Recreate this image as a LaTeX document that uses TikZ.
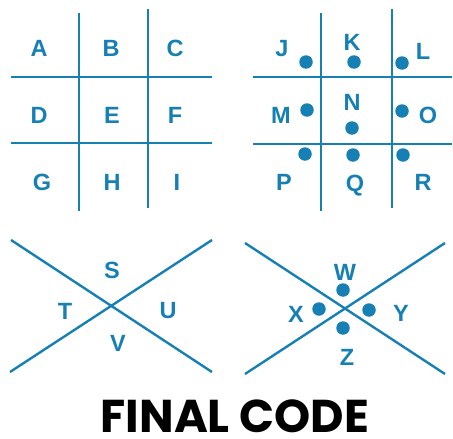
\documentclass[tikz,border=0pt]{standalone}
\usepackage{fontspec}
\setmainfont{Liberation Sans}
\newfontfamily\titlefont{Poppins}
\definecolor{pig}{RGB}{22,128,180}
\tikzset{
  gridline/.style={draw=pig, line width=2.4pt},
  letter/.style={text=pig, font=\fontsize{23.5}{23.5}\selectfont\bfseries, inner sep=0pt, anchor=center},
  dotmark/.style={fill=pig, circle, minimum size=13.5pt, inner sep=0pt},
}
\begin{document}
\begin{tikzpicture}[x=1pt,y=-1pt]
\useasboundingbox (0,0) rectangle (453,439);
% grid 1
\coordinate (g1a) at (79,13); \coordinate (g1b) at (79,211);
\coordinate (g1c) at (148,9); \coordinate (g1d) at (148,208);
\coordinate (g1e) at (11,77); \coordinate (g1f) at (212,77);
\coordinate (g1g) at (11,143); \coordinate (g1h) at (212,143);
\draw[gridline] (g1a) -- (g1b);
\draw[gridline] (g1c) -- (g1d);
\draw[gridline] (g1e) -- (g1f);
\draw[gridline] (g1g) -- (g1h);
\node[letter] (A) at (39,48) {A};
\node[letter] (B) at (111,48) {B};
\node[letter] (C) at (175,48) {C};
\node[letter] (D) at (39,115) {D};
\node[letter] (E) at (112,115) {E};
\node[letter] (F) at (175,115) {F};
\node[letter] (G) at (42,182) {G};
\node[letter] (H) at (112,182) {H};
\node[letter] (I) at (177,182) {I};
% grid 2
\coordinate (g2a) at (321,13); \coordinate (g2b) at (321,211);
\coordinate (g2c) at (392,9); \coordinate (g2d) at (392,208);
\coordinate (g2e) at (253,77); \coordinate (g2f) at (452,77);
\coordinate (g2g) at (253,144); \coordinate (g2h) at (452,144);
\draw[gridline] (g2a) -- (g2b);
\draw[gridline] (g2c) -- (g2d);
\draw[gridline] (g2e) -- (g2f);
\draw[gridline] (g2g) -- (g2h);
\node[letter] (J) at (282,49) {J};
\node[letter] (K) at (352,42) {K};
\node[letter] (L) at (423,51) {L};
\node[letter] (M) at (281,115) {M};
\node[letter] (N) at (352,102) {N};
\node[letter] (O) at (428,115) {O};
\node[letter] (P) at (284,182) {P};
\node[letter] (Q) at (355,186) {Q};
\node[letter] (R) at (423,182) {R};
\node[dotmark] (dJ) at (306,62) {};
\node[dotmark] (dK) at (354,62) {};
\node[dotmark] (dL) at (402,63) {};
\node[dotmark] (dM) at (307,110) {};
\node[dotmark] (dN) at (352,128) {};
\node[dotmark] (dO) at (402,111) {};
\node[dotmark] (dP) at (305,154) {};
\node[dotmark] (dQ) at (353,155) {};
\node[dotmark] (dR) at (403,155) {};
% X 1
\coordinate (x1a) at (11,240); \coordinate (x1b) at (212,372);
\coordinate (x1c) at (10,372); \coordinate (x1d) at (212,240);
\draw[gridline] (x1a) -- (x1b);
\draw[gridline] (x1c) -- (x1d);
\node[letter] (S) at (112,270) {S};
\node[letter] (T) at (65,311) {T};
\node[letter] (U) at (168,311) {U};
\node[letter] (V) at (118,343) {V};
% X 2
\coordinate (x2a) at (245,243); \coordinate (x2b) at (445,374);
\coordinate (x2c) at (245,374); \coordinate (x2d) at (445,243);
\draw[gridline] (x2a) -- (x2b);
\draw[gridline] (x2c) -- (x2d);
\node[letter] (W) at (345,272) {W};
\node[letter] (X) at (296,314) {X};
\node[letter] (Y) at (401,313) {Y};
\node[letter] (Z) at (347,357) {Z};
\node[dotmark] (dW) at (343,290) {};
\node[dotmark] (dX) at (319,309) {};
\node[dotmark] (dY) at (369,310) {};
\node[dotmark] (dZ) at (343,328) {};
% title
\node[font=\titlefont\fontsize{46}{46}\selectfont\bfseries, text=black, inner sep=0pt, text depth=0pt, anchor=base] (title) at (235,432) {FINAL CODE};
\end{tikzpicture}
\end{document}
